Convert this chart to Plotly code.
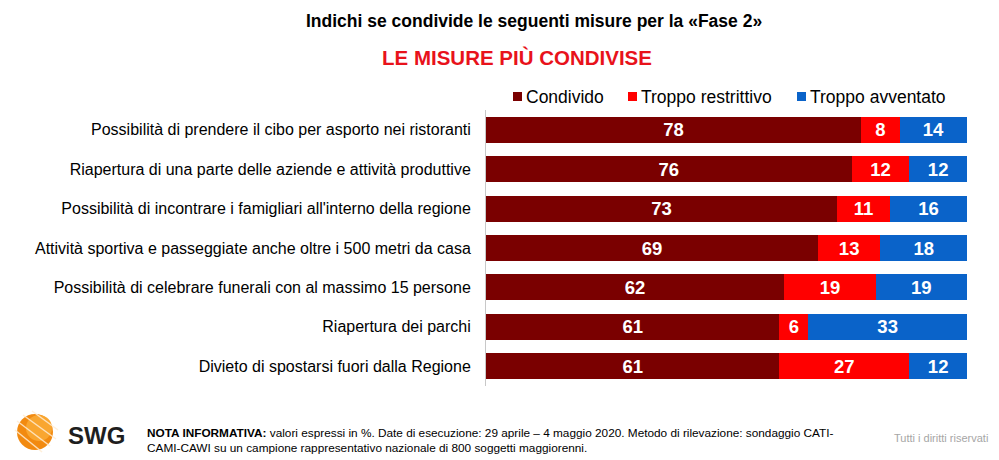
import plotly.graph_objects as go

categories = [
    "Possibilità di prendere il cibo per asporto nei ristoranti",
    "Riapertura di una parte delle aziende e attività produttive",
    "Possibilità di incontrare i famigliari all'interno della regione",
    "Attività sportiva e passeggiate anche oltre i 500 metri da casa",
    "Possibilità di celebrare funerali con al massimo 15 persone",
    "Riapertura dei parchi",
    "Divieto di spostarsi fuori dalla Regione",
]
condivido = [78, 76, 73, 69, 62, 61, 61]
troppo_restrittivo = [8, 12, 11, 13, 19, 6, 27]
troppo_avventato = [14, 12, 16, 18, 19, 33, 12]

series_names = ["Condivido", "Troppo restrittivo", "Troppo avventato"]
series_colors = ["#7A0000", "#FF0000", "#0A63C9"]
series_values = [condivido, troppo_restrittivo, troppo_avventato]

# Page has an 8px body margin; figure sized to fit the 999x460 window.
OFF = 8
W, H = 999 - OFF, 460 - OFF
ML, MR, MT, MB = 486 - OFF, 999 - 967, 110 - OFF, H - (386 - OFF)
PW, PH = W - ML - MR, H - MT - MB


def px(x):
    return (x - OFF - ML) / PW


def py(y):
    return (H - MB - (y - OFF)) / PH


fig = go.Figure()
for name, vals, color in zip(series_names, series_values, series_colors):
    fig.add_trace(go.Bar(
        y=categories, x=vals, name=name, orientation="h",
        marker=dict(color=color, line=dict(width=0)),
        text=[str(v) for v in vals], textposition="inside", textangle=0,
        insidetextanchor="middle", cliponaxis=False,
        textfont=dict(family="Arial, Liberation Sans", size=18.5, color="white", weight="bold"),
        hoverinfo="skip", showlegend=False,
    ))

fig.update_layout(
    barmode="stack",
    bargap=0.34,
    width=W, height=H,
    margin=dict(l=ML, r=MR, t=MT, b=MB, pad=0),
    paper_bgcolor="white", plot_bgcolor="white",
    font=dict(family="Arial, Liberation Sans", color="black"),
    uniformtext=dict(mode="show", minsize=18),
    showlegend=False,
    xaxis=dict(range=[0, 100], visible=False, fixedrange=True),
    yaxis=dict(autorange="reversed", showline=True, linecolor="#C8C8C8", linewidth=1,
               ticks="", showgrid=False, tickfont=dict(size=16, color="black"),
               ticklabelstandoff=11, fixedrange=True),
)

annotations = [
    dict(text="<b>Indichi se condivide le seguenti misure per la «Fase 2»</b>",
         x=534, y=21, xanchor="center", font=dict(size=17.5, color="black")),
    dict(text="<b>LE MISURE PIÙ CONDIVISE</b>",
         x=517, y=57, xanchor="center", font=dict(size=20.5, color="#E8121B")),
    dict(text="<b>SWG</b>", x=66, y=435, xanchor="left", font=dict(size=24, color="#1E1E1E")),
    dict(text="<b>NOTA INFORMATIVA:</b> valori espressi in %. Date di esecuzione: 29 aprile – 4 maggio 2020. Metodo di rilevazione: sondaggio CATI-<br>CAMI-CAWI su un campione rappresentativo nazionale di 800 soggetti maggiorenni.",
         x=145, y=440, xanchor="left", align="left", font=dict(size=11.8, color="black")),
    dict(text="Tutti i diritti riservati", x=990, y=438, xanchor="right",
         font=dict(size=11, color="#A6A6A6")),
]
# legend (manual, to match spacing of the original)
legend_sq_x = [513, 628, 797]
for name, color, sx in zip(series_names, series_colors, legend_sq_x):
    annotations.append(dict(text=name, x=sx + 11, y=97, xanchor="left",
                            font=dict(size=17.5, color="black")))
    fig.add_shape(type="rect", xref="paper", yref="paper",
                  x0=px(sx), x1=px(sx + 9), y0=py(101), y1=py(92),
                  fillcolor=color, line=dict(width=0))

for a in annotations:
    x, y = a.pop("x"), a.pop("y")
    fig.add_annotation(xref="paper", yref="paper", showarrow=False,
                       x=px(x), y=py(y), yanchor="middle", **a)

# Logo: orange sphere with light rings
fig.add_shape(type="circle", xref="paper", yref="paper",
              x0=px(17), x1=px(53), y0=py(450), y1=py(414),
              fillcolor="#F28A10", line=dict(width=0))
fig.add_shape(type="circle", xref="paper", yref="paper",
              x0=px(26), x1=px(52), y0=py(441), y1=py(415),
              fillcolor="#F9A630", line=dict(width=0))
for (ax, ay, bx, by) in [(15, 430, 42, 452), (17, 421, 50, 446), (23, 415, 56, 439), (32, 411, 58, 430)]:
    fig.add_shape(type="line", xref="paper", yref="paper",
                  x0=px(ax), y0=py(ay), x1=px(bx), y1=py(by),
                  line=dict(color="rgba(255,236,210,0.85)", width=1.5))

fig.write_html("out.html")
